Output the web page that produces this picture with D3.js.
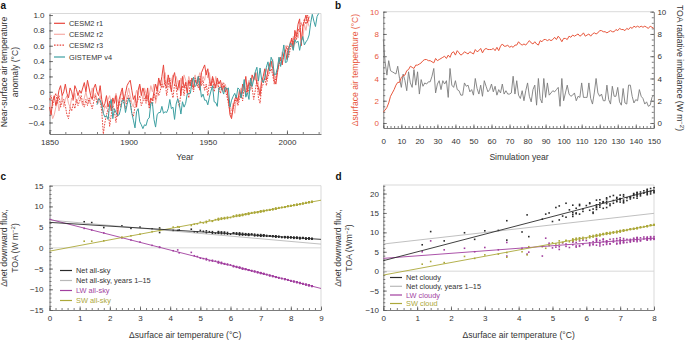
<!DOCTYPE html>
<html><head><meta charset="utf-8">
<script src="https://cdn.jsdelivr.net/npm/d3@7"></script>
<style>
body{margin:0;background:#fff;}
svg{display:block;font-family:"Liberation Sans",Arial,Helvetica,sans-serif;}
.ax .domain,.ax line{stroke:#5a5a5a;stroke-width:0.8;}
.ax text{fill:#333;font-size:8px;}
.rim{fill:none;stroke:#cfcfcf;stroke-width:0.8;}
.ttl{font-size:8.6px;fill:#333;}
.leg{font-size:7.4px;fill:#333;}
.plab{font-size:10px;font-weight:bold;fill:#111;}
</style></head><body>
<svg id="fig" width="685" height="341"></svg>
<script>
// ---------- panel a: annual global-mean temperature anomaly (°C) ----------
const cesmYear0 = 1850;   // CESM2 runs 1850-2014
const cesmR1 = [
-0.20,-0.30,-0.12,-0.05,-0.18,-0.10,0.02,0.08,-0.05,0.00,
0.10,-0.02,-0.08,0.05,0.00,-0.10,0.08,0.03,-0.05,0.02,
-0.02,0.05,0.12,0.00,0.15,0.05,-0.05,-0.10,0.05,0.10,
0.00,-0.05,0.08,-0.10,-0.20,-0.15,-0.05,-0.20,-0.12,-0.25,
-0.08,-0.15,-0.05,-0.32,-0.10,-0.02,0.05,-0.12,-0.02,0.08,
0.12,0.15,0.02,-0.10,-0.05,-0.20,0.02,0.10,-0.05,0.05,
-0.02,-0.10,0.05,-0.18,-0.08,-0.12,0.00,0.10,0.02,0.18,
0.08,0.20,0.35,0.10,0.05,0.22,0.12,0.00,0.18,0.25,
0.10,0.02,0.15,-0.05,0.20,0.05,0.12,-0.02,0.15,0.08,
0.18,0.05,0.15,0.10,0.20,0.02,0.25,0.30,0.35,0.22,
0.30,0.15,0.08,0.20,0.12,0.05,0.18,0.10,0.15,0.02,
0.08,0.00,0.05,-0.10,-0.30,-0.35,-0.20,-0.10,-0.05,-0.12,
0.02,-0.08,0.10,0.05,0.20,0.00,0.12,0.08,0.22,0.15,
0.25,0.10,0.05,-0.05,0.12,0.20,0.30,0.15,0.28,0.35,
0.40,0.30,0.15,0.10,0.25,0.38,0.45,0.35,0.50,0.55,
0.42,0.58,0.62,0.70,0.55,0.80,0.72,0.88,0.95,0.60,
0.85,0.92,1.00,0.90,0.98];
const cesmR2 = [
-0.15,-0.25,-0.35,-0.30,-0.20,-0.10,-0.25,-0.15,-0.05,-0.20,
-0.10,-0.05,-0.15,-0.20,-0.08,-0.12,-0.02,-0.15,-0.10,-0.05,
-0.12,-0.18,-0.08,0.00,-0.10,-0.15,-0.05,0.05,-0.08,-0.02,
-0.10,-0.15,-0.05,-0.20,-0.28,-0.18,-0.22,-0.10,-0.05,-0.15,
-0.20,-0.10,-0.02,-0.12,-0.18,-0.05,0.00,-0.10,-0.15,-0.05,
0.05,-0.05,-0.15,-0.20,-0.08,0.02,-0.05,0.08,0.00,-0.10,
0.05,-0.02,-0.12,-0.05,0.08,0.00,0.10,-0.15,-0.05,0.12,
0.15,0.05,0.20,0.25,0.10,0.18,0.05,0.15,0.22,0.08,
0.20,0.12,0.05,0.18,0.10,0.22,0.15,0.08,0.20,0.12,
0.05,0.15,0.22,0.08,0.18,0.25,0.12,0.20,0.15,0.28,
0.18,0.25,0.10,0.15,0.05,0.20,0.10,0.02,0.08,0.12,
0.00,0.10,0.02,-0.08,-0.20,-0.25,-0.15,-0.28,-0.10,-0.15,
-0.05,0.05,-0.02,0.10,-0.05,0.08,0.15,0.02,0.10,0.20,
0.15,0.25,0.08,0.00,0.18,0.12,0.25,0.30,0.22,0.38,
0.32,0.42,0.20,0.18,0.30,0.45,0.40,0.52,0.45,0.60,
0.55,0.48,0.65,0.58,0.72,0.62,0.78,0.70,0.85,0.75,
0.68,0.88,0.80,0.92,0.85];
const cesmR3 = [
-0.10,-0.05,-0.18,-0.08,-0.02,-0.15,-0.05,-0.20,-0.12,-0.10,
-0.18,-0.30,-0.35,-0.20,-0.25,-0.15,-0.22,-0.10,-0.18,-0.12,
-0.05,-0.15,-0.20,-0.10,-0.18,-0.08,-0.15,-0.22,-0.12,-0.05,
-0.15,-0.08,-0.12,-0.25,-0.55,-0.40,-0.30,-0.22,-0.45,-0.30,
-0.18,-0.25,-0.40,-0.20,-0.12,-0.20,-0.08,-0.15,-0.22,-0.10,
-0.05,-0.12,-0.28,-0.32,-0.20,-0.15,-0.10,-0.05,-0.18,-0.12,
-0.08,-0.15,-0.05,-0.22,-0.12,-0.18,-0.02,-0.10,0.05,-0.05,
0.02,0.10,0.05,0.15,-0.05,0.08,0.18,0.02,-0.08,0.10,
0.05,-0.10,-0.20,0.00,0.08,-0.05,0.12,0.02,-0.08,0.15,
0.10,0.00,0.18,0.12,0.05,0.20,0.08,0.15,0.02,0.10,
-0.05,0.12,0.05,0.18,0.00,0.10,0.15,0.05,-0.02,0.08,
0.12,0.02,-0.05,-0.15,-0.25,-0.32,-0.22,-0.15,-0.08,-0.18,
-0.10,0.00,-0.12,0.05,-0.05,0.08,-0.02,0.12,0.05,-0.10,
0.02,0.15,-0.08,-0.15,0.05,0.10,0.18,0.08,0.20,0.25,
0.30,0.22,0.10,0.18,0.28,0.35,0.42,0.38,0.48,0.52,
0.60,0.45,0.55,0.68,0.62,0.75,0.68,0.82,0.78,0.90,
0.85,0.95,0.88,1.00,0.92];
const gissYear0 = 1880;   // GISTEMP v4 1880-2020
const gistemp = [
-0.17,-0.09,-0.11,-0.17,-0.28,-0.33,-0.31,-0.36,-0.17,-0.10,
-0.35,-0.22,-0.27,-0.31,-0.30,-0.22,-0.11,-0.11,-0.27,-0.17,
-0.08,-0.15,-0.28,-0.37,-0.47,-0.26,-0.22,-0.39,-0.43,-0.48,
-0.43,-0.44,-0.36,-0.34,-0.15,-0.14,-0.36,-0.46,-0.30,-0.27,
-0.27,-0.19,-0.28,-0.26,-0.27,-0.22,-0.10,-0.22,-0.20,-0.36,
-0.16,-0.09,-0.16,-0.29,-0.13,-0.20,-0.15,-0.03,-0.02,-0.02,
0.13,0.19,0.07,0.09,0.20,0.09,-0.07,-0.03,-0.11,-0.11,
-0.17,-0.07,0.01,0.08,-0.13,-0.14,-0.19,0.05,0.06,0.03,
-0.03,0.06,0.03,0.05,-0.20,-0.11,-0.06,-0.02,-0.08,0.05,
0.03,-0.08,0.01,0.16,-0.07,-0.01,-0.10,0.18,0.07,0.16,
0.26,0.32,0.14,0.31,0.16,0.12,0.18,0.32,0.39,0.27,
0.45,0.40,0.22,0.23,0.31,0.45,0.33,0.46,0.61,0.38,
0.39,0.54,0.63,0.62,0.54,0.68,0.64,0.66,0.54,0.65,
0.72,0.61,0.65,0.68,0.74,0.90,1.01,0.92,0.85,0.98,1.02];
const aLegend = ["CESM2 r1", "CESM2 r2", "CESM2 r3", "GISTEMP v4"];
const aYTicks = [-0.4, -0.2, 0, 0.2, 0.4, 0.6, 0.8, 1.0];
const aXTicks = [1850, 1900, 1950, 2000];

// ---------- panel b: abrupt-4xCO2, years 0-150 ----------
const satAnom = [
1.0,
1.15,1.4,1.8,2.4,2.7,3.0,3.4,3.65,3.65,4.1,4.25,4.3,4.7,4.8,5.1,
5.0,4.9,5.2,5.2,5.3,5.4,5.6,5.7,5.7,5.6,5.6,5.5,5.4,5.8,5.6,
5.7,5.8,5.9,6.0,5.8,6.1,5.9,6.3,6.4,6.1,6.5,6.3,6.1,6.2,6.4,
6.3,6.2,6.4,6.3,6.2,6.6,6.4,6.5,6.7,6.3,6.6,6.7,6.6,6.6,6.6,
6.7,6.5,6.8,6.5,6.9,7.1,6.9,6.9,7.0,6.8,6.9,6.8,7.0,7.0,7.3,
7.1,7.0,7.1,7.0,7.2,7.4,7.2,7.1,7.3,7.1,7.0,7.4,7.3,7.5,7.5,
7.4,7.5,7.4,7.5,7.7,7.5,7.8,7.6,7.3,7.6,7.6,7.5,7.8,7.7,7.9,
7.8,7.9,8.0,7.8,7.9,8.1,7.8,7.9,8.0,7.8,8.0,8.1,8.0,8.1,8.3,
8.3,8.2,8.2,8.1,8.2,8.3,8.2,8.2,8.4,8.3,8.5,8.4,8.4,8.3,8.5,
8.4,8.6,8.5,8.7,8.6,8.7,8.6,8.7,8.6,8.7,8.6,8.5,8.7,8.6,8.5];
const toaImb = [
7.5,5.5,4.3,5.6,4.7,4.6,4.5,4.4,5.1,4.0,
3.2,4.4,3.8,2.9,4.6,3.6,3.2,4.8,3.4,4.6,
2.6,3.9,3.3,3.6,3.5,3.7,3.7,4.2,4.9,2.7,
3.5,3.8,3.0,3.8,3.5,3.8,2.3,4.9,3.4,3.2,
3.8,3.0,2.9,2.5,2.5,3.6,3.3,3.4,2.8,3.0,
2.5,4.0,3.1,2.6,3.4,2.4,3.8,3.3,2.8,3.0,
3.5,2.8,3.3,2.5,3.0,2.7,3.5,2.6,2.9,2.6,
2.6,2.7,4.2,2.6,3.8,2.5,2.2,2.9,2.0,2.9,
3.6,2.4,1.9,3.0,3.4,1.6,4.0,2.2,1.8,4.0,
2.3,3.6,2.5,2.7,2.9,2.8,3.0,3.2,1.5,4.0,
2.0,2.7,3.4,2.6,2.4,2.5,2.7,2.0,2.4,2.3,
3.6,2.3,2.3,2.3,3.6,2.2,1.7,2.7,4.0,2.7,
2.4,2.6,2.0,2.0,3.4,2.1,1.7,3.3,2.4,2.4,
3.2,1.9,1.6,3.1,1.8,1.7,3.4,3.4,2.4,1.8,
2.1,2.0,3.0,2.4,2.2,1.7,1.9,1.5,1.6,2.3,2.5];

// ---------- panels c/d: annual TOA fluxes vs warming (years 1-150) ----------
const netAll = [
6.3,6.1,4.9,5.3,4.7,5.0,4.6,4.8,3.7,4.2,4.2,4.3,4.5,3.8,4.0,
4.2,3.8,3.6,4.1,3.9,3.5,3.9,3.4,3.8,3.6,3.9,3.5,3.9,3.7,3.5,
3.8,3.4,3.7,3.3,3.8,3.5,3.3,3.6,3.2,3.6,3.4,3.1,3.6,3.3,3.5,
3.3,3.5,3.1,3.4,3.6,3.2,3.4,3.1,3.3,3.5,3.0,3.3,3.2,3.4,3.1,
3.2,3.4,3.1,3.2,3.0,3.1,3.2,2.9,3.2,2.9,3.1,3.3,2.8,3.1,2.9,
3.0,2.9,3.1,3.0,2.8,2.9,3.0,2.8,2.9,3.1,2.9,2.7,2.9,2.8,2.6,
2.9,2.7,2.8,2.9,2.6,2.8,2.5,2.7,2.9,2.6,2.8,2.7,2.6,2.5,2.7,
2.6,2.5,2.6,2.7,2.4,2.6,2.5,2.6,2.4,2.6,2.5,2.4,2.6,2.5,2.3,
2.5,2.4,2.5,2.3,2.4,2.3,2.6,2.3,2.4,2.2,2.4,2.3,2.5,2.3,2.2,
2.4,2.3,2.1,2.3,2.2,2.1,2.3,2.2,2.4,2.2,2.1,2.3,2.2,2.3,2.2];
const lwAll = [
4.7,4.3,3.6,2.4,1.9,1.4,0.6,0.2,0.1,-0.7,-0.5,-1.2,-1.1,-1.9,-2.6,
-2.5,-2.1,-2.9,-2.6,-3.1,-3.0,-3.6,-3.5,-3.8,-3.3,-3.6,-3.2,-3.2,-3.9,-3.4,
-3.7,-3.8,-4.1,-4.1,-3.9,-4.5,-3.9,-4.8,-5.0,-4.3,-5.2,-4.7,-4.5,-4.5,-5.1,
-4.8,-4.7,-4.9,-4.8,-4.6,-5.4,-5.1,-5.1,-5.6,-4.7,-5.3,-5.5,-5.4,-5.3,-5.4,
-5.5,-5.2,-5.7,-5.1,-5.9,-6.3,-5.8,-6.0,-6.1,-5.8,-5.9,-5.6,-6.1,-6.0,-6.7,
-6.3,-6.2,-6.2,-6.0,-6.5,-6.9,-6.4,-6.3,-6.6,-6.2,-6.1,-6.8,-6.7,-7.0,-7.1,
-6.8,-7.0,-6.9,-7.1,-7.4,-7.0,-7.6,-7.2,-6.7,-7.3,-7.2,-7.0,-7.5,-7.4,-7.8,
-7.6,-7.7,-8.0,-7.5,-7.8,-8.1,-7.6,-7.7,-8.0,-7.5,-7.9,-8.1,-8.0,-8.2,-8.5,
-8.4,-8.3,-8.4,-8.1,-8.3,-8.6,-8.3,-8.2,-8.7,-8.5,-8.9,-8.6,-8.7,-8.4,-8.9,
-8.7,-9.1,-8.8,-9.2,-9.0,-9.3,-9.1,-9.2,-9.0,-9.3,-9.1,-8.9,-9.2,-9.0,-8.8];
const swAll = [
1.6,1.6,1.7,2.6,2.9,3.3,3.9,4.5,4.2,5.0,5.1,5.0,5.4,5.7,6.0,
6.2,5.8,6.4,6.1,6.7,6.4,7.0,6.9,7.2,6.7,7.1,6.8,6.5,7.3,6.9,
7.1,7.0,7.4,7.3,7.2,7.7,7.1,8.0,7.8,7.6,8.2,7.7,7.5,7.8,8.1,
7.9,7.6,8.0,7.7,7.9,8.4,7.9,8.2,8.5,7.8,8.1,8.4,8.3,8.3,8.1,
8.4,8.0,8.6,8.2,8.7,8.8,8.5,8.7,8.9,8.6,8.7,8.4,8.8,8.7,9.2,
9.0,8.8,8.8,8.9,9.1,9.3,9.0,9.0,9.2,8.9,8.7,9.4,9.1,9.4,9.5,
9.3,9.6,9.2,9.4,9.8,9.5,9.9,9.6,9.2,9.6,9.7,9.4,9.8,9.7,10.0,
9.9,10.1,10.2,9.8,10.0,10.3,9.9,10.1,10.1,9.9,10.2,10.3,10.1,10.2,10.6,
10.5,10.4,10.3,10.4,10.5,10.6,10.3,10.5,10.7,10.6,10.9,10.6,10.8,10.5,10.8,
10.7,11.0,10.9,11.1,11.0,11.2,10.9,11.1,11.0,11.0,11.1,10.8,11.2,11.0,10.9];
const netCld = [
6.8,10.2,7.8,9.9,8.2,10.4,10.5,13.0,8.0,10.1,14.5,8.9,13.4,14.7,16.4,
12.8,15.0,16.8,13.2,14.2,17.5,14.6,16.2,15.0,17.0,14.1,15.8,13.9,16.9,15.1,
14.8,17.2,15.4,16.9,14.7,17.6,16.0,15.9,18.4,15.7,17.9,16.4,17.4,15.2,17.0,
18.3,16.0,17.6,16.6,14.9,18.6,16.5,17.8,16.9,17.1,18.9,17.3,16.4,18.0,17.4,
19.2,16.2,18.2,17.7,18.8,17.6,19.0,17.9,18.7,19.5,18.1,17.5,18.6,19.6,19.0,
18.3,17.8,19.7,18.5,18.9,19.8,18.2,19.3,18.6,17.9,18.4,20.0,19.2,19.9,18.8,
19.5,20.3,18.9,19.6,20.1,19.3,20.6,19.8,19.0,20.4,19.4,20.2,20.0,20.7,20.4,
21.1,19.9,20.8,20.3,21.3,21.0,19.7,20.6,21.5,20.9,20.2,21.4,20.5,21.2,21.6,
21.3,21.8,20.9,21.5,21.0,21.7,21.2,20.8,21.9,21.4,21.6,21.1,21.8,21.3,21.5,
21.7,21.2,21.9,21.4,21.8,21.1,21.6,21.9,21.3,21.7,21.5,21.2,21.8,21.4,21.6];
const lwCld = [
5.0,7.8,5.5,5.9,5.0,6.1,5.5,7.4,3.9,5.9,4.4,4.9,3.9,8.5,6.2,
6.0,7.2,6.3,5.6,7.3,6.4,7.8,6.2,7.4,6.8,7.5,6.1,7.0,6.6,7.6,
6.5,7.8,6.9,7.9,6.4,7.3,8.0,6.7,7.9,6.6,7.6,8.4,6.9,7.6,6.5,
8.1,7.0,7.3,7.9,6.8,7.8,7.0,8.3,7.1,7.6,7.3,8.2,6.9,7.8,7.4,
7.0,8.1,7.5,6.8,7.9,7.4,8.4,7.2,8.0,7.8,7.0,8.3,7.6,8.6,7.9,
7.3,8.1,7.6,7.1,8.2,7.8,7.4,8.4,7.7,8.0,7.3,8.3,7.5,8.0,8.6,
7.7,8.1,8.5,7.6,8.3,8.7,8.1,7.9,8.2,8.6,7.8,8.4,8.0,8.8,8.3,
8.6,8.1,8.9,8.4,8.7,8.6,8.2,8.9,8.3,8.8,8.5,9.0,8.2,8.7,8.9,
8.6,8.9,8.4,8.8,9.0,8.5,8.7,8.9,8.3,8.8,9.1,8.6,8.9,8.5,8.8,
9.0,8.7,8.9,8.4,8.8,9.1,8.6,8.9,8.7,9.0,8.5,8.8,8.9,8.6,8.8];
const swCld = [
1.8,2.5,2.2,3.8,3.3,4.2,4.4,4.8,3.6,5.0,4.2,6.3,6.3,5.9,7.0,
7.3,6.6,7.8,7.0,7.4,7.9,8.2,8.0,8.5,7.7,8.3,7.6,7.9,8.6,8.0,
8.3,8.1,8.7,8.4,8.5,9.1,8.3,9.4,9.1,8.9,9.7,9.0,8.6,9.2,9.5,
9.1,8.8,9.5,9.3,8.9,9.9,9.2,9.6,10.0,9.0,9.8,9.6,9.7,9.5,9.9,
9.7,9.4,10.1,9.6,10.0,10.6,10.2,9.9,10.4,10.1,10.3,9.8,10.2,10.5,10.9,
10.4,10.1,10.6,10.3,10.7,10.9,10.5,10.3,10.9,10.5,10.2,11.0,10.7,11.2,11.0,
10.8,11.1,11.0,11.2,11.5,11.0,11.6,11.3,10.8,11.2,11.4,11.0,11.6,11.4,11.8,
11.5,11.8,12.0,11.7,11.9,12.1,11.5,11.8,12.0,11.6,11.9,12.2,11.9,12.1,12.4,
12.2,12.5,12.1,12.4,12.3,12.6,12.2,12.5,12.3,12.7,12.4,12.2,12.6,12.3,12.5,
12.7,12.4,12.6,12.3,12.8,12.5,12.4,12.7,12.6,12.5,12.8,12.4,12.6,12.7,12.5];

// regression lines: value at the two ends of the x-axis
const cFitX = [0, 9];
const cFitNet = [6.15, 2.05], cFitNet15 = [6.7, 0.9], cFitLW = [6.9, -9.8], cFitSW = [-0.8, 11.5];
const dFitX = [0, 8];
const dFitNet = [2.7, 20.9], dFitNet15 = [7.0, 14.9], dFitLW = [3.3, 8.5], dFitSW = [-1.0, 11.9];
const cLegend = ["Net all-sky", "Net all-sky, years 1\u201315", "LW all-sky", "SW all-sky"];
const dLegend = ["Net cloudy", "Net cloudy, years 1\u201315", "LW cloudy", "SW cloud"];

const COL = { r1: "#e8453c", r2: "#f6aca6", teal: "#3c9fa1", sat: "#e8573d", toa: "#7c7c7c",
  net: "#2a2a2a", net15: "#b9b9b9", lw: "#a23f9f", sw: "#aca83a", zero: "#d4d4d4" };

const svg = d3.select("#fig");
const minus = (f) => (v) => f(v).replace("-", "\u2212");

// frame: light top/right rim, inward ticks on the data axes
function frame(x, y, o) {
  const g = svg.append("g");
  const [xl, xr] = x.range(), [yb, yt] = y.range();
  g.append("path").attr("class", "rim").attr("d", `M${xl},${yt}H${xr}` + (o.right ? "" : `V${yb}`));
  const bot = (vals, size, fmt) => g.append("g").attr("class", "ax")
    .attr("transform", `translate(0,${yb})`)
    .call(d3.axisBottom(x).tickValues(vals).tickSize(size).tickSizeOuter(0)
      .tickPadding(o.xPad).tickFormat(fmt));
  bot(o.xMinor, -2, "").select(".domain").remove();
  bot(o.xMajor, -3.5, o.xFmt);
  const left = (vals, size, fmt) => g.append("g").attr("class", "ax")
    .attr("transform", `translate(${xl},0)`)
    .call(d3.axisLeft(y).tickValues(vals).tickSize(size).tickSizeOuter(0)
      .tickPadding(o.yPad).tickFormat(fmt));
  left(o.yMinor, -2, "").select(".domain").remove();
  const ly = left(o.yMajor, -3.5, o.yFmt);
  if (o.yColor) ly.selectAll("text").style("fill", o.yColor);
  return g;
}

function legend(x0, ys, labels, styles, len) {
  labels.forEach((t, k) => {
    const s = styles[k];
    svg.append("line").attr("x1", x0).attr("x2", x0 + len).attr("y1", ys[k]).attr("y2", ys[k])
      .attr("stroke", s.c).attr("stroke-width", 1.2).attr("stroke-dasharray", s.dash || null);
    svg.append("text").attr("class", "leg").attr("x", x0 + len + 4).attr("y", ys[k]).attr("dy", "0.34em")
      .style("fill", s.t || "#333").text(t);
  });
}

function vtitle(x, y, lines, rot, color) {
  const t = svg.append("text").attr("class", "ttl").attr("text-anchor", "middle")
    .attr("transform", `translate(${x},${y}) rotate(${rot})`);
  lines.forEach((l, k) => t.append("tspan").attr("x", 0).attr("dy", k ? "1.28em" : 0).html(l));
  if (color) t.style("fill", color);
}

// ================= a =================
{
  const x = d3.scaleLinear().domain([1850, 2021.5]).range([49.5, 321]);
  const y = d3.scaleLinear().domain([-0.55, 1.02]).range([134, 13.5]);
  frame(x, y, { xMajor: aXTicks, xMinor: d3.range(1850, 2021, 10), xFmt: d3.format("d"), xPad: 5.6,
    yMajor: aYTicks, yMinor: d3.range(-0.5, 1.01, 0.1), yPad: 5,
    yFmt: minus((v) => Math.abs(v) < 1e-9 ? "0" : d3.format(".1f")(v)) });
  const line = (y0) => d3.line().x((d, i) => x(y0 + i)).y((d) => y(d));
  const series = [
    { v: cesmR2, y0: cesmYear0, c: COL.r2 },
    { v: cesmR3, y0: cesmYear0, c: COL.r1, dash: "1.6,1.2" },
    { v: cesmR1, y0: cesmYear0, c: COL.r1 },
    { v: gistemp, y0: gissYear0, c: COL.teal },
  ];
  series.forEach((s) => svg.append("path").datum(s.v).attr("d", line(s.y0)).attr("fill", "none")
    .attr("stroke", s.c).attr("stroke-width", 1).attr("stroke-dasharray", s.dash || null));
  legend(54, [23.3, 34.3, 45.2, 57], aLegend,
    [{ c: COL.r1 }, { c: COL.r2 }, { c: COL.r1, dash: "1.6,1.2" }, { c: COL.teal }], 11);
  svg.append("text").attr("class", "ttl").attr("x", 185).attr("y", 159.5).attr("text-anchor", "middle").text("Year");
  vtitle(7.2, 72, ["Near-surface air temperature", "anomaly (°C)"], -90);
  svg.append("text").attr("class", "plab").attr("x", 0.5).attr("y", 9).text("a");
}

// ================= b =================
{
  const x = d3.scaleLinear().domain([0, 150]).range([383.3, 653.8]);
  const y = d3.scaleLinear().domain([-0.45, 10]).range([128, 11.7]);
  frame(x, y, { xMajor: d3.range(0, 151, 10), xMinor: d3.range(0, 151, 2), xFmt: d3.format("d"), xPad: 10.3,
    yMajor: d3.range(0, 11, 2), yMinor: d3.range(0, 10.1, 0.5), yPad: 4.3, yFmt: d3.format("d"),
    yColor: COL.sat, right: true });
  const ax = (vals, size, fmt) => svg.append("g").attr("class", "ax")
    .attr("transform", `translate(${x.range()[1]},0)`)
    .call(d3.axisRight(y).tickValues(vals).tickSize(size).tickSizeOuter(0).tickPadding(3.6).tickFormat(fmt));
  ax(d3.range(0, 10.1, 0.5), -2, "").select(".domain").remove();
  ax(d3.range(0, 11, 2), -3.5, d3.format("d"));
  const line = d3.line().x((d, i) => x(i)).y((d) => y(d));
  svg.append("path").datum(toaImb).attr("d", line).attr("fill", "none").attr("stroke", COL.toa).attr("stroke-width", 0.9);
  svg.append("path").datum(satAnom).attr("d", line).attr("fill", "none").attr("stroke", COL.sat).attr("stroke-width", 1);
  svg.append("text").attr("class", "ttl").attr("x", 519).attr("y", 159.5).attr("text-anchor", "middle").text("Simulation year");
  vtitle(358, 70, ["\u0394surface air temperature (°C)"], -90, COL.sat);
  vtitle(676.5, 68, ["TOA radiative imbalance (W m<tspan dy='-3' font-size='6'>\u22122</tspan><tspan dy='3'>)</tspan>"], 90);
  svg.append("text").attr("class", "plab").attr("x", 335).attr("y", 9).text("b");
}

// ================= c & d =================
function fluxPanel(o) {
  const x = d3.scaleLinear().domain(o.xd).range(o.xr);
  const y = d3.scaleLinear().domain(o.yd).range(o.yr);
  frame(x, y, { xMajor: d3.range(o.xd[0], o.xd[1] + 0.1, 1), xMinor: d3.range(0, o.xd[1] + 0.01, 0.2),
    xFmt: d3.format("d"), xPad: 5.7, yMajor: o.yTicks, yMinor: d3.range(o.yTicks[0], o.yd[1] + 0.01, 1),
    yPad: o.yPad, yFmt: minus(d3.format("d")) });
  svg.append("line").attr("x1", x.range()[0]).attr("x2", x.range()[1]).attr("y1", y(0)).attr("y2", y(0))
    .attr("stroke", COL.zero).attr("stroke-width", 0.9);
  const xs = satAnom.slice(1);
  const inside = (d) => d[0] <= o.xd[1] + 1e-9;
  const pts = [[o.net, COL.net], [o.lw, COL.lw], [o.sw, COL.sw]];
  pts.forEach(([vals, c]) => svg.append("g").selectAll("rect")
    .data(xs.map((v, i) => [v, vals[i]]).filter(inside)).join("rect")
    .attr("x", (d) => x(d[0]) - 0.8).attr("y", (d) => y(d[1]) - 0.8)
    .attr("width", 1.6).attr("height", 1.6).attr("fill", c));
  const fits = [[o.fitNet15, COL.net15], [o.fitLW, COL.lw], [o.fitSW, COL.sw], [o.fitNet, COL.net]];
  fits.forEach(([f, c]) => svg.append("line")
    .attr("x1", x(o.fitX[0])).attr("x2", x(o.fitX[1])).attr("y1", y(f[0])).attr("y2", y(f[1]))
    .attr("stroke", c).attr("stroke-width", 0.9));
  legend(o.legX, o.legY, o.legend,
    [{ c: COL.net }, { c: COL.net15 }, { c: COL.lw, t: COL.lw }, { c: COL.sw, t: COL.sw }], 12);
  const xc = (o.xr[0] + o.xr[1]) / 2;
  svg.append("text").attr("class", "ttl").attr("x", xc).attr("y", 337.5).attr("text-anchor", "middle")
    .text("\u0394surface air temperature (°C)");
  vtitle(o.titleX, 248, ["\u0394net downward flux,", o.unit], -90);
  svg.append("text").attr("class", "plab").attr("x", o.labX).attr("y", 180).text(o.lab);
}

fluxPanel({ xd: [0, 9], xr: [49.5, 321], yd: [-15, 15], yr: [310, 185.7], yTicks: d3.range(-15, 16, 5), yPad: 6,
  net: netAll, lw: lwAll, sw: swAll, fitX: cFitX, fitNet: cFitNet, fitNet15: cFitNet15, fitLW: cFitLW, fitSW: cFitSW,
  legend: cLegend, legX: 60, legY: [270.5, 280.5, 290.5, 300.5], titleX: 7.2,
  unit: "TOA (W m<tspan dy='-3' font-size='6'>\u22122</tspan><tspan dy='3'>)</tspan>", lab: "c", labX: 0.5 });
fluxPanel({ xd: [0, 8], xr: [383.3, 654], yd: [-10, 22.2], yr: [310, 185], yTicks: d3.range(-10, 21, 5), yPad: 4.3,
  net: netCld, lw: lwCld, sw: swCld, fitX: dFitX, fitNet: dFitNet, fitNet15: dFitNet15, fitLW: dFitLW, fitSW: dFitSW,
  legend: dLegend, legX: 390, legY: [277.5, 286.3, 295, 303.5], titleX: 341,
  unit: "TOA (Wm<tspan dy='-3' font-size='6'>\u22122</tspan><tspan dy='3'>)</tspan>", lab: "d", labX: 335.5 });
</script></body></html>
